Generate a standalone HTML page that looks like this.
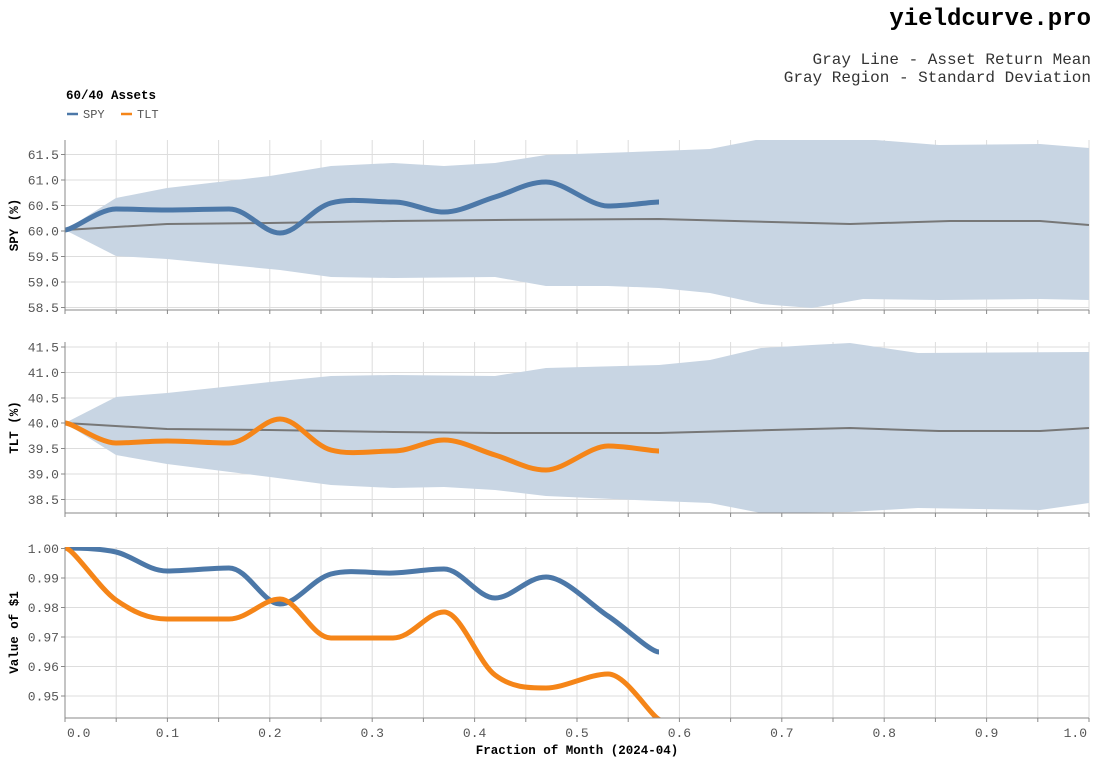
<!DOCTYPE html>
<html><head><meta charset="utf-8"><style>
html,body{margin:0;padding:0;background:#fff;}
svg{display:block;font-family:"Liberation Mono",monospace;}
</style></head><body>
<svg id="s" width="1097" height="763" viewBox="0 0 1097 763" xmlns="http://www.w3.org/2000/svg">
<text x="1091" y="25" text-anchor="end" font-size="24" font-weight="bold" fill="#000">yieldcurve.pro</text>
<text x="1091" y="64" text-anchor="end" font-size="16" fill="#333">Gray Line - Asset Return Mean</text>
<text x="1091" y="82" text-anchor="end" font-size="16" fill="#333">Gray Region - Standard Deviation</text>
<text x="66" y="99" font-size="12.5" font-weight="bold" fill="#000">60/40 Assets</text>
<line x1="67" y1="114" x2="78" y2="114" stroke="#4c78a8" stroke-width="2.5"/>
<text x="83" y="118" font-size="12" fill="#555">SPY</text>
<line x1="121" y1="114" x2="132" y2="114" stroke="#f58518" stroke-width="2.5"/>
<text x="137" y="118" font-size="12" fill="#555">TLT</text>
<g id="g"></g>
</svg>
<script>
var NS="http://www.w3.org/2000/svg",g=document.getElementById('g');
function el(t,a,p){var e=document.createElementNS(NS,t);for(var k in a)e.setAttribute(k,a[k]);(p||g).appendChild(e);return e;}
function cr(p){var d="M"+p[0][0]+","+p[0][1];for(var i=0;i<p.length-1;i++){var p0=p[i-1]||p[i],p1=p[i],p2=p[i+1],p3=p[i+2]||p2;var t=6;
var c1x=p1[0]+(p2[0]-p0[0])/t,c1y=p1[1]+(p2[1]-p0[1])/t,c2x=p2[0]-(p3[0]-p1[0])/t,c2y=p2[1]-(p3[1]-p1[1])/t;
if(i==0||(p1[1]-p0[1])*(p2[1]-p1[1])<=0){c1y=p1[1];}
if(i==p.length-2||(p2[1]-p1[1])*(p3[1]-p2[1])<=0){c2y=p2[1];}
d+="C"+c1x.toFixed(1)+","+c1y.toFixed(1)+" "+c2x.toFixed(1)+","+c2y.toFixed(1)+" "+p2[0]+","+p2[1];}return d;}
function lin(p){return "M"+p.map(function(q){return q.join(",")}).join("L");}
var X0=65,X1=1089;
function panel(top,bot,ticks,title,band,mean,series){
 var cid="c"+top;var cp=el('clipPath',{id:cid});el('rect',{x:X0,y:top,width:X1-X0,height:bot-top},cp);
 for(var i=0;i<=20;i++){var x=X0+i*51.2;el('line',{x1:x,y1:top,x2:x,y2:bot,stroke:'#ddd','stroke-width':1});}
 ticks.forEach(function(t){el('line',{x1:X0,y1:t[1],x2:X1,y2:t[1],stroke:'#ddd'});el('line',{x1:X0-4,y1:t[1],x2:X0,y2:t[1],stroke:'#888'});
  var tx=el('text',{x:X0-6,y:t[1]+4.5,'text-anchor':'end','font-size':13,fill:'#555'});tx.textContent=t[0];});
 if(band){var up=band[0],lo=band[1].slice().reverse();el('path',{d:lin(up)+"L"+lin(lo).slice(1)+"Z",fill:'#c8d5e3','clip-path':'url(#'+cid+')'});}
 if(mean)el('path',{d:lin(mean),fill:'none',stroke:'#777','stroke-width':2});
 series.forEach(function(s){el('path',{d:cr(s[1]),fill:'none',stroke:s[0],'stroke-width':5,'stroke-linecap':'butt','clip-path':'url(#'+cid+')'});});
 el('line',{x1:X0,y1:top,x2:X0,y2:bot,stroke:'#888'});
 el('line',{x1:X0,y1:bot,x2:X1,y2:bot,stroke:'#888'});
 for(var i=0;i<=20;i++){var x=X0+i*51.2;el('line',{x1:x,y1:bot,x2:x,y2:bot+4,stroke:'#888'});}
 var ty=(top+bot)/2;var tt=el('text',{x:18,y:ty,'text-anchor':'middle','font-size':12.5,'font-weight':'bold',fill:'#000',transform:'rotate(-90 18 '+ty+')'});tt.textContent=title;
}
var B="#4c78a8",O="#f58518";
panel(140,310,[["61.5",154.5],["61.0",180],["60.5",205.5],["60.0",231],["59.5",256.5],["59.0",282],["58.5",307.5]],"SPY (%)",
[[[65,230],[116,198],[167,188],[270,176],[331,166],[393,163],[444,166],[495,163],[546,155],[659,151],[710,149],[761,139],[812,138],[863,139],[939,145],[1040,144],[1089,148]],
 [[65,230],[116,256],[167,259],[229,265],[280,270],[331,277],[393,278],[495,277],[546,286],[608,286],[659,288],[710,293],[761,304],[812,308],[863,299],[939,300],[1040,299],[1089,300]]],
[[65,230],[167,224],[270,223],[393,221],[495,220],[659,219],[850,224],[950,221],[1040,221],[1089,225]],
[[B,[[65,230],[116,209],[167,210],[229,209],[280,233],[331,203],[393,202],[444,212],[495,197],[546,182],[608,206],[659,202]]]]);
panel(342,513,[["41.5",347],["41.0",372.5],["40.5",398],["40.0",423],["39.5",448.5],["39.0",474],["38.5",499.5]],"TLT (%)",
[[[65,423],[116,397],[167,393],[270,382],[331,376],[393,375],[495,376],[546,368],[659,365],[710,360],[761,348],[812,345],[850,343],[918,353],[1089,352]],
 [[65,423],[116,455],[167,464],[270,477],[331,485],[393,488],[444,487],[495,490],[546,496],[659,501],[710,503],[761,513],[850,512],[918,508],[1040,510],[1089,503]]],
[[65,423],[167,429],[270,430],[393,432],[495,433],[659,433],[850,428],[939,431],[1040,431],[1089,428]],
[[O,[[65,423],[116,443],[167,441],[229,443],[280,419],[331,450],[393,451],[444,440],[495,455],[546,470],[608,446],[659,451]]]]);
panel(547,718,[["1.00",548.5],["0.99",578],["0.98",607.5],["0.97",637],["0.96",666.5],["0.95",696]],"Value of $1",null,null,
[[B,[[65,548],[116,552],[167,571],[229,568],[280,604],[331,574],[393,573],[444,569],[495,598],[546,577],[608,616],[659,652]]],
 [O,[[65,548],[116,600],[167,619],[229,619],[280,599],[331,638],[393,638],[444,612],[495,675],[546,688],[608,674],[661,720]]]]);
for(var i=0;i<=10;i++){var x=X0+i*102.4;var anc='middle';if(i==0){x=X0+2;anc='start';}if(i==10){x=X1-2;anc='end';}
 var t=el('text',{x:x,y:737,'text-anchor':anc,'font-size':13,fill:'#555'});t.textContent=(i/10).toFixed(1);}
var xt=el('text',{x:577,y:754,'text-anchor':'middle','font-size':12.5,'font-weight':'bold',fill:'#000'});xt.textContent="Fraction of Month (2024-04)";
</script>
</body></html>
